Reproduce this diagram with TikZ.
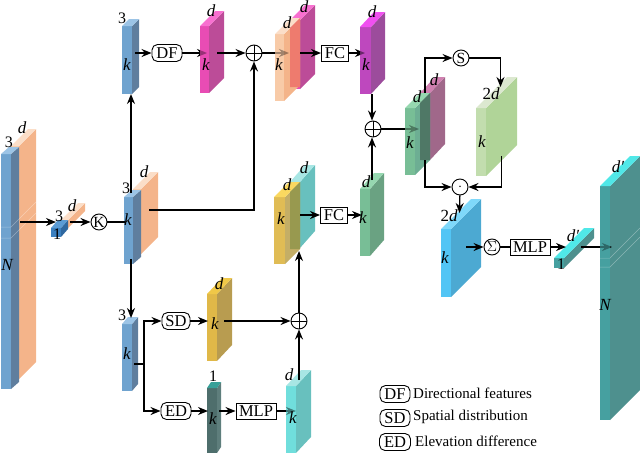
\documentclass[tikz,border=0pt]{standalone}
\usepackage{fontspec}
\setmainfont{Liberation Serif}
\usetikzlibrary{arrows.meta}
\newcommand{\slab}[9]{%
  \fill[#7] (#1,#2) rectangle (#3,#4);
  \fill[#8] (#3,#2) -- ++(#5,-#6) -- ++(0,#4-#2) -- (#3,#4) -- cycle;
  \fill[#9] (#1,#2) -- (#3,#2) -- ++(#5,-#6) -- ++(#1-#3,0) -- cycle;
}
\newcommand{\veil}[6]{\fill[#5,fill opacity=#6] (#1,#2) rectangle (#3,#4);}
\newcommand{\seams}[5]{% faint seams on a long slab
  \draw[white,opacity=.35,line width=.5pt] (#1,#3) -- (#2,#3) -- ++(#4,-#5);
}
\definecolor{bF}{HTML}{6FA3CF}\definecolor{bS}{HTML}{5F7E9E}\definecolor{bT}{HTML}{9CC4E6}
\definecolor{oF}{HTML}{F8CBA8}\definecolor{oS}{HTML}{F4B48A}\definecolor{oT}{HTML}{FBDEC8}
\definecolor{sbF}{HTML}{3B80C0}\definecolor{sbS}{HTML}{2F68A0}\definecolor{sbT}{HTML}{5A9BD5}
\definecolor{mF}{HTML}{E84CB4}\definecolor{mS}{HTML}{BC4C98}\definecolor{mT}{HTML}{F870D0}
\definecolor{pF}{HTML}{BE48BE}\definecolor{pS}{HTML}{9C4C9C}\definecolor{pT}{HTML}{F050F0}
\definecolor{gF}{HTML}{78BE96}\definecolor{gS}{HTML}{6AA282}\definecolor{gT}{HTML}{96D8B0}
\definecolor{jS}{HTML}{6DAE93}\definecolor{rS}{HTML}{A0688A}\definecolor{rT}{HTML}{D080B0}
\definecolor{jO}{HTML}{4F7866}
\definecolor{lF}{HTML}{C2DDAE}\definecolor{lS}{HTML}{B0D498}\definecolor{lT}{HTML}{DCE8D0}
\definecolor{cF}{HTML}{52C5F5}\definecolor{cS}{HTML}{4CA9D2}\definecolor{cT}{HTML}{7FD8FA}
\definecolor{tF}{HTML}{46A0A0}\definecolor{tS}{HTML}{4E908E}\definecolor{tT}{HTML}{50E8E8}
\definecolor{yF}{HTML}{E0BC55}\definecolor{yS}{HTML}{C4AE66}\definecolor{yT}{HTML}{FAD860}\definecolor{yO}{HTML}{98994F}
\definecolor{qS}{HTML}{68C0BE}\definecolor{qT}{HTML}{A8E6E4}\definecolor{qF}{HTML}{70DEDC}
\definecolor{zF}{HTML}{E0B848}\definecolor{zS}{HTML}{B89C50}\definecolor{zT}{HTML}{F0C848}
\definecolor{dF}{HTML}{4E6E6C}\definecolor{dS}{HTML}{5E7E7C}\definecolor{dT}{HTML}{38A098}
\definecolor{sO}{HTML}{EE7B6E}
\tikzset{
  lab/.style={inner sep=0pt,font=\fontsize{16}{16}\selectfont},
  ilab/.style={inner sep=0pt,font=\fontsize{17}{17}\selectfont\itshape},
  pill/.style={draw,rounded corners=5.5pt,line width=.9pt,fill=white,minimum height=17pt,inner sep=0pt,font=\fontsize{16.5}{16.5}\selectfont},
  sq/.style={draw,line width=.9pt,fill=white,minimum height=16pt,inner sep=0pt,font=\fontsize{16.5}{16.5}\selectfont},
  op/.style={draw,circle,line width=.9pt,fill=white,minimum size=16pt,inner sep=0pt,font=\fontsize{15.5}{15.5}\selectfont},
  oplus/.style={op,path picture={\draw[line width=.8pt] (path picture bounding box.north) -- (path picture bounding box.south) (path picture bounding box.west) -- (path picture bounding box.east);}},
  wire/.style={draw,line width=1.35pt},
  arr/.style={wire,-{Stealth[length=10pt,width=8pt]}},
  legendtext/.style={inner sep=0pt,anchor=west,font=\fontsize{15}{15}\selectfont},
}
\begin{document}
\begin{tikzpicture}[x=1pt,y=-1pt]
\useasboundingbox (0,0) rectangle (640,453);
% input
\slab{11}{146}{19}{379}{17}{17}{oF}{oS}{oT}
\slab{1}{154}{11}{389}{8}{7}{bF}{bS}{bT}
\seams{1}{11}{227}{25}{25}
\seams{1}{11}{238}{25}{25}
% small
\slab{61}{220}{68}{228}{17}{17}{oF}{oS}{oT}
\slab{51}{228}{61}{237}{7}{8}{sbF}{sbS}{sbT}
% mid
\slab{133}{189}{141}{254}{17}{17}{oF}{oS}{oT}
\slab{124}{197}{133}{264}{8}{7}{bF}{bS}{bT}
% top row
\slab{122}{26}{132}{94}{7}{7}{bF}{bS}{bT}
\slab{200}{26}{209}{93}{15}{15}{mF}{mS}{mT}
\slab{290}{20}{300}{89}{15}{15}{mF}{mS}{mT}
\slab{275}{34}{284}{101}{16}{16}{oF}{oS}{oT}
\fill[sO] (290,28) -- (300,18) -- (300,87) -- (290,87) -- cycle;
\slab{360}{27}{371}{94}{14}{15}{pF}{pS}{pT}
% green merged
\slab{420}{93}{430}{160}{15}{16}{rS}{rS}{rT}
\slab{405}{108}{415}{175}{15}{15}{gF}{jS}{gT}
\fill[jO] (420,103) -- (430,93) -- (430,160) -- (420,160) -- cycle;
\slab{476}{108}{486}{176}{31}{31}{lF}{lS}{lT}
\slab{360}{189}{370}{256}{14}{16}{gF}{gS}{gT}
\slab{441}{229}{451}{297}{30}{30}{cF}{cS}{cT}
\slab{600}{186}{610}{420}{30}{30}{tF}{tS}{tT}
\seams{600}{610}{258}{30}{30}
\seams{600}{610}{267}{30}{30}
\slab{554}{258}{564}{268}{30}{30}{tF}{tS}{tT}
% lower fusion
\slab{290}{182}{300}{248}{15}{17}{qS}{qS}{qT}
\slab{274}{197}{285}{264}{15}{15}{yF}{yS}{yT}
\fill[yO] (290,192) -- (300,182) -- (300,249) -- (290,249) -- cycle;
\slab{207}{294}{217}{361}{15}{16}{zF}{zS}{zT}
\slab{122}{324}{132}{391}{6}{7}{bF}{bS}{bT}
\slab{207}{388}{217}{453}{4}{6}{dF}{dS}{dT}
\slab{286}{386}{296}{453}{15}{16}{qF}{qS}{qT}

% operators
\node[pill,minimum width=30pt] (df) at (167,53) {DF};
\node[oplus] (p1) at (254,53) {};
\node[sq,minimum width=27pt] (fc1) at (335,53) {FC};
\node[op] (ss) at (461,58) {S};
\node[oplus] (p2) at (373,129) {};
\node[op] (kk) at (99,222) {K};
\node[sq,minimum width=27pt] (fc2) at (334,215) {FC};
\node[op] (dot) at (460,187) {$\cdot$};
\node[op] (sg) at (492,247) {$\Sigma$};
\node[sq,minimum width=40pt] (mlp1) at (530,247) {MLP};
\node[pill,minimum width=28pt] (sd) at (176,321) {SD};
\node[oplus] (p3) at (299,321) {};
\node[pill,minimum width=30pt] (ed) at (176,411) {ED};
\node[sq,minimum width=40pt] (mlp2) at (256,411) {MLP};

% connector ends
\foreach \n/\x/\y in {a/20/222,b/56/222,c/70/222,e/125/222,f/131/193,g/131/94,h/131/259,i/131/318,
  j/149/210,l/135/53,m/207/53,n/217/53,o/289/53,q/300/53,r/321/53,s/365/53,t/372/94,u/372/180,v/419/129,
  w/425/93,x/425/58,y/500.5/87,z/425/160,aa/425/187,ab/501.5/156,ac/501.5/187,ad/459.5/213,ae/466/247,
  af/566/247,ag/581/247,ah/612/247,ai/300/215,aj/362/215,ak/299/251,al/134/364,am/144/364,
  an/208/321,ao/224/321,ap/208/411,aq/219/411,ar/296/411,as/299/380}{\coordinate (\n) at (\x,\y);}
\path[arr] (a) -- (b);
\path[arr] (c) -- (kk);
\path[wire] (kk) -- (e);
\path[arr] (f) -- (g);
\path[arr] (h) -- (i);
\path[arr] (j) -| (p1);
\path[arr] (l) -- (df);
\path[arr] (df) -- (m);
\path[arr] (n) -- (p1);
\path[arr] (p1) -- (o);
\path[arr] (q) -- (r);
\path[arr] (fc1) -- (s);
\path[arr] (t) -- (t |- p2.north);
\path[arr] (u) -- (u |- p2.south);
\path[arr] (p2) -- (v);
\path[arr] (w) |- (ss);
\path[arr] (ss) -| (y);
\path[arr] (z) |- (dot);
\path[arr] (ab) |- (dot);
\path[arr] (dot) -- (ad);
\path[arr] (ae) -- (sg);
\path[wire] (sg) -- (mlp1);
\path[arr] (mlp1) -- (af);
\path[arr] (ag) -- (ah);
\path[arr] (ai) -- (fc2);
\path[arr] (fc2) -- (aj);
\path[arr] (p3) -- (ak);
\path[wire] (al) -- (am);
\path[arr] (am) |- (sd);
\path[arr] (am) |- (ed);
\path[arr] (sd) -- (an);
\path[arr] (ao) -- (p3);
\path[arr] (ed) -- (ap);
\path[arr] (aq) -- (mlp2);
\path[arr] (mlp2) -- (ar);
\path[arr] (as) -- (p3);

% veils tint the tips that run into a slab
\veil{200}{40}{209}{66}{mF}{.65}
\veil{275}{40}{284}{66}{oF}{.65}
\veil{284}{40}{290}{66}{oS}{.65}
\veil{360}{40}{371}{66}{pF}{.55}
\veil{405}{118}{415}{140}{gF}{.65}
\veil{415}{118}{420}{140}{jS}{.65}
\veil{600}{236}{610}{258}{tF}{.65}
\veil{286}{400}{296}{422}{qF}{.55}

% labels
\node[lab] (t1) at (9,142) {3};
\node[ilab] (t2) at (22,128) {d};
\node[ilab] (t3) at (7,265) {N};
\node[lab] (t4) at (59,216) {3};
\node[ilab] (t5) at (72,206) {d};
\node[lab] (t6) at (57,234) {1};
\node[lab] (t7) at (126,188) {3};
\node[ilab] (t8) at (144,172) {d};
\node[ilab] (t9) at (128,220) {k};
\node[lab] (t10) at (122,18) {3};
\node[ilab] (t11) at (127,65) {k};
\node[ilab] (t12) at (211,11) {d};
\node[ilab] (t13) at (206,65) {k};
\node[ilab] (t14) at (287,23) {d};
\node[ilab] (t15) at (279,65) {k};
\node[ilab] (t16) at (304,7) {d};
\node[ilab] (t17) at (372,12) {d};
\node[ilab] (t18) at (366,65) {k};
\node[ilab] (t19) at (417,97) {d};
\node[ilab] (t20) at (410,143) {k};
\node[ilab] (t21) at (434,80) {d};
\node[ilab] (t22) at (491,94) {\upshape 2\itshape d};
\node[ilab] (t23) at (482,142) {k};
\node[ilab] (t24) at (449,216) {\upshape 2\itshape d};
\node[ilab] (t25) at (445,258) {k};
\node[ilab] (t26) at (573,236) {d′};
\node[lab] (t27) at (561,264) {1};
\node[ilab] (t28) at (618,167) {d′};
\node[ilab] (t29) at (605,305) {N};
\node[ilab] (t30) at (366,182) {d};
\node[ilab] (t31) at (363,218) {k};
\node[ilab] (t32) at (287,185) {d};
\node[ilab] (t33) at (304,168) {d};
\node[ilab] (t34) at (281,219) {k};
\node[ilab] (t35) at (219,284) {d};
\node[ilab] (t36) at (215,324) {k};
\node[lab] (t37) at (122,315) {3};
\node[ilab] (t38) at (127,354) {k};
\node[lab] (t39) at (213,376) {1};
\node[ilab] (t40) at (213,419) {k};
\node[ilab] (t41) at (289,375) {d};
\node[ilab] (t42) at (293,418) {k};

% legend
\node[pill,minimum width=30pt] (k1) at (395,394) {DF};
\node[pill,minimum width=30pt] (k2) at (395,418) {SD};
\node[pill,minimum width=31pt] (k3) at (395,442) {ED};
\node[legendtext] (l1) at (413,393) {Directional features};
\node[legendtext] (l2) at (413,417) {Spatial distribution};
\node[legendtext] (l3) at (415,441) {Elevation difference};
\end{tikzpicture}
\end{document}
